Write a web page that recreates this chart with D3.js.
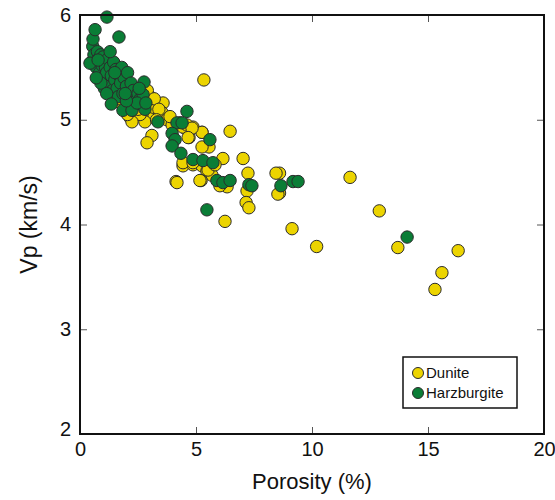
<!DOCTYPE html>
<html>
<head>
<meta charset="utf-8">
<script src="https://cdn.jsdelivr.net/npm/d3@7/dist/d3.min.js"></script>
<style>
  html, body { margin: 0; padding: 0; background: #fff; }
  svg { display: block; font-family: "Liberation Sans", Arial, Helvetica, sans-serif; }
</style>
</head>
<body>
<svg id="chart" width="555" height="500"></svg>
<script>
// ---- Data ----
const xTicks = [0, 5, 10, 15, 20];
const yTicks = [2, 3, 4, 5, 6];
const seriesNames = ["Dunite", "Harzburgite"];

const dunitePorosity = [
  5.34, 11.64, 12.9, 9.14, 10.2, 13.7, 16.3, 15.6, 15.3, 8.6, 8.6, 8.53, 8.45,
  6.47, 5.26, 5.56, 4.53, 4.74, 4.70, 6.16, 7.03, 4.44, 4.87, 5.26, 5.47, 5.69,
  7.24, 5.22, 6.34, 6.03, 7.2, 7.16, 7.28, 6.25, 4.14, 4.18,
  3.58, 3.53, 3.23, 2.93, 2.67, 2.80, 3.75, 3.97, 4.31,
  3.02, 3.15, 2.16, 2.59, 3.88, 4.44, 4.87, 5.26, 3.10, 2.89,
  4.61, 4.83, 4.66, 5.26, 4.44, 4.87, 5.52, 5.82, 5.17,
  2.24, 2.0, 1.8, 2.3, 2.5, 1.6, 2.4, 2.9, 3.2, 2.05, 2.7, 3.4, 1.95, 2.15, 3.3
];
const duniteVp = [
  5.38, 4.45, 4.13, 3.96, 3.79, 3.78, 3.75, 3.54, 3.38, 4.49, 4.30, 4.29, 4.49,
  4.89, 4.88, 4.74, 4.92, 4.91, 4.83, 4.63, 4.63, 4.56, 4.57, 4.56, 4.51, 4.47,
  4.49, 4.42, 4.36, 4.37, 4.32, 4.21, 4.16, 4.03, 4.41, 4.40,
  5.16, 5.07, 5.05, 5.05, 5.05, 4.98, 5.00, 4.95, 4.97,
  5.22, 5.12, 5.02, 5.05, 5.03, 4.93, 4.93, 4.88, 4.85, 4.78,
  4.95, 4.92, 4.83, 4.74, 4.59, 4.59, 4.52, 4.57, 4.42,
  4.98, 5.10, 5.15, 5.12, 5.10, 5.20, 5.30, 5.28, 5.20, 5.05, 5.15, 5.10, 5.22, 5.18, 5.00
];

const harzPorosity = [
  0.5, 0.55, 0.56, 0.65, 1.16, 1.68, 0.6, 0.7, 0.75, 0.8, 0.85, 0.9, 0.95, 1.0,
  1.0, 1.05, 1.1, 1.15, 1.2, 1.25, 1.3, 1.35, 1.4, 1.45, 1.5, 1.55, 1.6, 1.65,
  1.7, 1.75, 1.8, 1.85, 1.9, 2.0, 2.05, 2.1, 2.2, 2.3, 2.4, 2.5, 2.6, 2.76,
  2.8, 1.85, 2.24, 0.43, 0.78, 1.3, 0.9, 1.15, 1.5, 0.7,
  2.72, 2.46, 2.84, 3.36, 4.61, 4.18, 3.97, 4.10, 3.97, 4.35, 4.40,
  4.87, 5.30, 5.73, 5.60, 5.90, 6.16, 6.47, 7.28, 7.41, 8.66, 9.18, 9.40,
  5.47, 14.1, 2.0, 2.55, 1.95, 1.35
];
const harzVp = [
  5.55, 5.70, 5.77, 5.86, 5.98, 5.79, 5.62, 5.50, 5.65, 5.58, 5.45, 5.62, 5.52, 5.40,
  5.60, 5.30, 5.50, 5.45, 5.58, 5.35, 5.50, 5.42, 5.28, 5.55, 5.38, 5.48, 5.30, 5.22,
  5.42, 5.35, 5.50, 5.25, 5.40, 5.32, 5.45, 5.20, 5.35, 5.28, 5.15, 5.25, 5.20, 5.36,
  5.10, 5.09, 5.09, 5.54, 5.57, 5.65, 5.35, 5.25, 5.45, 5.40,
  5.24, 5.16, 5.16, 4.98, 5.08, 4.97, 4.87, 4.81, 4.75, 4.68, 4.97,
  4.62, 4.61, 4.59, 4.81, 4.42, 4.40, 4.42, 4.38, 4.37, 4.37, 4.41, 4.41,
  4.14, 3.88, 5.18, 5.30, 5.25, 5.15
];

// ---- Layout ----
const svg = d3.select("#chart");
const L = 80, R = 544, T = 15, B = 434;
const x = d3.scaleLinear().domain([0, 20]).range([L, R]);
const y = d3.scaleLinear().domain([2, 6]).range([B, T]);
const colors = { Dunite: "#ecd400", Harzburgite: "#0a7d36" };

// Points
const series = [
  { name: "Dunite", xs: dunitePorosity, ys: duniteVp },
  { name: "Harzburgite", xs: harzPorosity, ys: harzVp }
];
series.forEach(s => {
  const pts = s.xs.map((v, i) => [v, s.ys[i]]);
  svg.append("g").selectAll("circle").data(pts).join("circle")
    .attr("cx", d => x(d[0]))
    .attr("cy", d => y(d[1]))
    .attr("r", 6.2)
    .attr("fill", colors[s.name])
    .attr("stroke", "#2b2b2b")
    .attr("stroke-width", 1);
});

// Axes (inward ticks on all sides)
const tickLen = 7;
const gB = svg.append("g").attr("transform", `translate(0,${B})`)
  .call(d3.axisBottom(x).tickValues(xTicks).tickSize(-tickLen).tickPadding(5).tickFormat(d3.format("d")));
const gT = svg.append("g").attr("transform", `translate(0,${T})`)
  .call(d3.axisTop(x).tickValues(xTicks).tickSize(-tickLen).tickFormat(""));
const gL = svg.append("g").attr("transform", `translate(${L},0)`)
  .call(d3.axisLeft(y).tickValues(yTicks).tickSize(-tickLen).tickPadding(9).tickFormat(d3.format("d")));
const gR = svg.append("g").attr("transform", `translate(${R},0)`)
  .call(d3.axisRight(y).tickValues(yTicks).tickSize(-tickLen).tickFormat(""));
[gB, gT, gL, gR].forEach(g => {
  g.select(".domain").remove();
  g.selectAll(".tick line").attr("stroke", "#555").attr("stroke-width", 1);
  g.selectAll(".tick text").attr("fill", "#111").style("font-size", "20px");
});
gB.selectAll(".tick text").attr("dy", "0.85em");
gL.selectAll(".tick text").attr("dy", "0.3em");
gL.selectAll(".tick").filter(d => d === 2).select("text").attr("dy", "0.05em");

// Frame
svg.append("rect").attr("x", L).attr("y", T).attr("width", R - L).attr("height", B - T)
  .attr("fill", "none").attr("stroke", "#111").attr("stroke-width", 2);

// Axis titles
svg.append("text").attr("x", (L + R) / 2).attr("y", 489).attr("text-anchor", "middle")
  .style("font-size", "22px").attr("fill", "#111").text("Porosity (%)");
svg.append("text").attr("transform", `translate(37,${(T + B) / 2}) rotate(-90)`)
  .attr("text-anchor", "middle").style("font-size", "23px").attr("fill", "#111").text("Vp (km/s)");

// Legend
const lg = svg.append("g").attr("transform", "translate(403,357)");
lg.append("rect").attr("width", 114).attr("height", 51).attr("fill", "#fff")
  .attr("stroke", "#111").attr("stroke-width", 1.5);
seriesNames.forEach((n, i) => {
  const yy = 16 + i * 20;
  lg.append("circle").attr("cx", 15).attr("cy", yy).attr("r", 5.5)
    .attr("fill", colors[n]).attr("stroke", "#2b2b2b").attr("stroke-width", 1);
  lg.append("text").attr("x", 23).attr("y", yy).attr("dy", "0.35em")
    .style("font-size", "15px").attr("fill", "#111").text(n);
});
</script>
</body>
</html>
